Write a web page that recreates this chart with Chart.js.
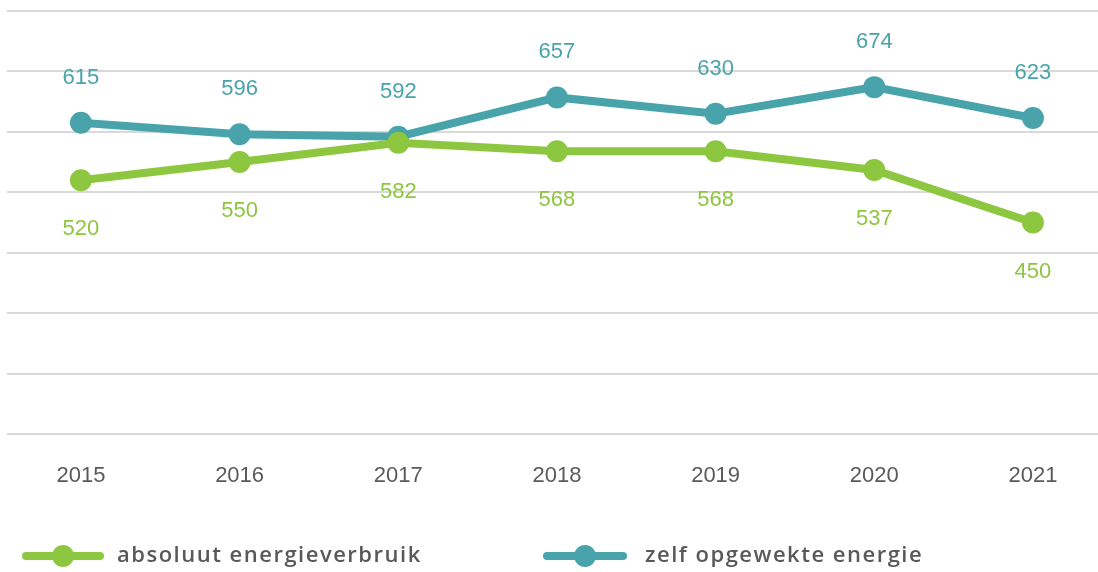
<!DOCTYPE html>
<html>
<head>
<meta charset="utf-8">
<script src="https://cdn.jsdelivr.net/npm/chart.js@4"></script>
<style>
    html, body { margin: 0; padding: 0; background: #fff; }
    #wrap { width: 1098px; height: 572px; }
</style>
</head>
<body>
<div id="wrap"><canvas id="energyChart" width="1098" height="572"></canvas></div>
<script>
const years = ['2015', '2016', '2017', '2018', '2019', '2020', '2021'];
const absoluutVerbruik = [520, 550, 582, 568, 568, 537, 450];
const zelfOpgewekt = [615, 596, 592, 657, 630, 674, 623];
const seriesNames = ['absoluut energieverbruik', 'zelf opgewekte energie'];

const GREEN = '#8dc63f';
const TEAL = '#48a4aa';
const SANS = 'Helvetica, Arial, "Liberation Sans", sans-serif';

const toPoints = (arr) => arr.map((v, i) => ({ x: i, y: v }));

// value labels: teal above the points, green below
const valueLabels = {
    id: 'valueLabels',
    afterDatasetsDraw(chart) {
        const ctx = chart.ctx;
        ctx.save();
        ctx.font = '22px ' + SANS;
        ctx.textAlign = 'center';
        ctx.textBaseline = 'middle';
        chart.data.datasets.forEach((ds, di) => {
            const meta = chart.getDatasetMeta(di);
            ctx.fillStyle = ds.borderColor;
            meta.data.forEach((pt, i) => {
                const off = di === 0 ? 49 : -45;
                ctx.fillText(String(ds.data[i].y), pt.x, pt.y + off);
            });
        });
        ctx.restore();
    }
};

// legend: line with a dot, then the name
const lineLegend = {
    id: 'lineLegend',
    afterDraw(chart) {
        const ctx = chart.ctx;
        const items = [
            { x1: 22, x2: 104, cx: 63, tx: 117, color: GREEN, text: seriesNames[0] },
            { x1: 543, x2: 627, cx: 585, tx: 645, color: TEAL, text: seriesNames[1] }
        ];
        const y = 556;
        ctx.save();
        items.forEach(it => {
            ctx.strokeStyle = it.color;
            ctx.lineWidth = 8;
            ctx.lineCap = 'round';
            ctx.beginPath();
            ctx.moveTo(it.x1 + 4, y);
            ctx.lineTo(it.x2 - 4, y);
            ctx.stroke();
            ctx.fillStyle = it.color;
            ctx.beginPath();
            ctx.arc(it.cx, y, 11, 0, Math.PI * 2);
            ctx.fill();
            ctx.fillStyle = '#58595b';
            ctx.font = '600 22px "Open Sans", "Noto Sans", sans-serif';
            ctx.letterSpacing = '1.5px';
            ctx.textAlign = 'left';
            ctx.textBaseline = 'middle';
            ctx.fillText(it.text, it.tx, y);
        });
        ctx.restore();
    }
};

new Chart(document.getElementById('energyChart').getContext('2d'), {
    type: 'line',
    data: {
        datasets: [
            {
                label: seriesNames[0],
                data: toPoints(absoluutVerbruik),
                borderColor: GREEN,
                backgroundColor: GREEN,
                borderWidth: 8,
                pointRadius: 11,
                pointHoverRadius: 11,
                pointBackgroundColor: GREEN,
                pointBorderWidth: 0,
                tension: 0,
                fill: false
            },
            {
                label: seriesNames[1],
                data: toPoints(zelfOpgewekt),
                borderColor: TEAL,
                backgroundColor: TEAL,
                borderWidth: 8,
                pointRadius: 11,
                pointHoverRadius: 11,
                pointBackgroundColor: TEAL,
                pointBorderWidth: 0,
                tension: 0,
                fill: false
            }
        ]
    },
    options: {
        responsive: false,
        animation: false,
        layout: {
            autoPadding: false,
            padding: { left: 7, right: 0, top: 11, bottom: 58 }
        },
        plugins: {
            legend: { display: false },
            tooltip: { enabled: false }
        },
        scales: {
            x: {
                type: 'linear',
                min: -0.466,
                max: 6.41,
                afterBuildTicks: (axis) => {
                    axis.ticks = years.map((y, i) => ({ value: i }));
                },
                afterFit: (axis) => {
                    axis.height = 80;
                    axis.paddingLeft = 0;
                    axis.paddingRight = 0;
                },
                ticks: {
                    callback: (v) => years[v],
                    color: '#5a5a5a',
                    padding: 21,
                    font: { family: SANS, size: 22 },
                    maxRotation: 0
                },
                grid: { display: false },
                border: { display: false }
            },
            y: {
                min: 100,
                max: 800,
                afterFit: (axis) => {
                    axis.width = 0;
                },
                ticks: { display: false, stepSize: 100 },
                grid: { color: '#d9d9d9', lineWidth: 2, drawTicks: false },
                border: { display: false }
            }
        }
    },
    plugins: [valueLabels, lineLegend]
});
</script>
</body>
</html>
